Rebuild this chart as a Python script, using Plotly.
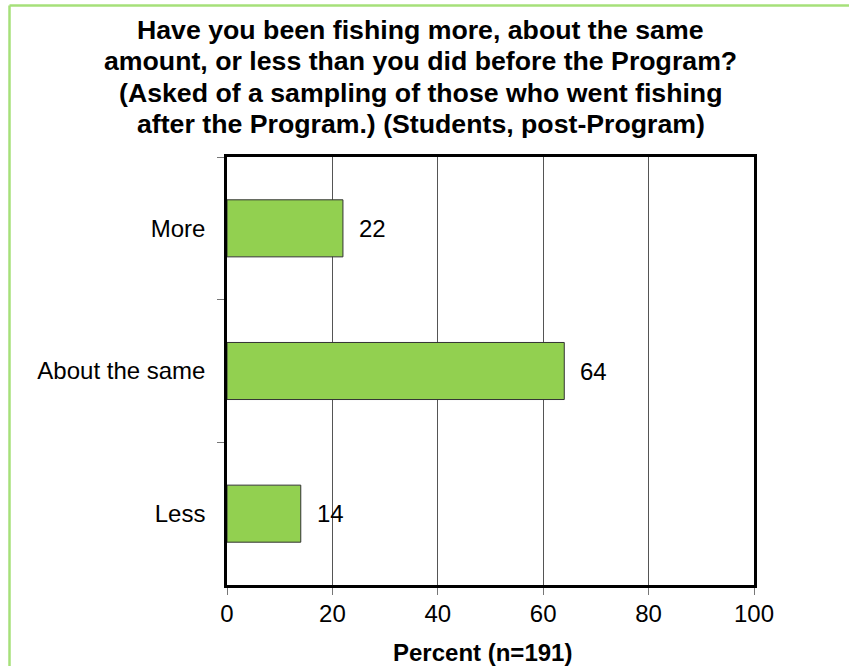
import plotly.graph_objects as go

categories = ['More', 'About the same', 'Less']
percent = [22, 64, 14]
x_ticks = [0, 20, 40, 60, 80, 100]

title_lines = ['Have you been fishing more, about the same',
               'amount, or less than you did before the Program?',
               '(Asked of a sampling of those who went fishing',
               'after the Program.) (Students, post-Program)']
title_centers = [30, 61, 93, 124]  # pixel rows of the title lines

W, H = 849, 666
L, R, T, B = 227, 95, 157, 81
pw, ph = W - L - R, H - T - B

fig = go.Figure(go.Bar(
    y=categories, x=percent, orientation='h', width=0.4,
    marker=dict(color='#92d050', line=dict(color='#333333', width=1)),
    hoverinfo='skip'))

# value labels to the right of each bar
for c, v in zip(categories, percent):
    fig.add_annotation(x=v, y=c, text=str(v), showarrow=False, xanchor='left',
                       xshift=14, font=dict(size=24, color='black'))

# title, one annotation per line so the line spacing matches
for line, yc in zip(title_lines, title_centers):
    fig.add_annotation(text='<b>' + line + '</b>', showarrow=False,
                       xref='paper', yref='paper', x=(W / 2 - 4 - L) / pw, y=1 + (T - yc) / ph,
                       xanchor='center', yanchor='middle', font=dict(size=26.7, color='black'))

# x axis title (sits a little left of the plot centre in the original)
fig.add_annotation(text='<b>Percent (n=191)</b>', showarrow=False,
                   xref='paper', yref='paper', x=(482 - L) / pw, y=-(652 - T - ph) / ph,
                   xanchor='center', yanchor='middle', font=dict(size=24, color='black'))

# light green slide border (left and top edges)
gx = (9.5 - L) / pw
gy = 1 + (T - 5.5) / ph
green = dict(color='#a6e07a', width=2.5)
fig.add_shape(type='line', xref='paper', yref='paper', x0=gx, x1=gx, y0=gy, y1=-(B + 5) / ph, line=green)
fig.add_shape(type='line', xref='paper', yref='paper', x0=gx, x1=1 + (R + 5) / pw, y0=gy, y1=gy, line=green)

fig.update_layout(
    width=W, height=H, margin=dict(l=L, r=R, t=T, b=B),
    paper_bgcolor='white', plot_bgcolor='white',
    font=dict(family='Liberation Sans, Arial, sans-serif', size=24, color='black'),
    showlegend=False,
    xaxis=dict(range=[0, 100], tickvals=x_ticks, showgrid=True, gridcolor='#555555', gridwidth=1,
               ticks='outside', ticklen=7, tickcolor='#777777', zeroline=False, automargin=False,
               showline=True, linecolor='black', linewidth=2.5, mirror=True, ticklabelstandoff=-2),
    yaxis=dict(categoryorder='array', categoryarray=categories, autorange='reversed',
               tickson='boundaries', ticks='outside', ticklen=7, tickcolor='#777777', automargin=False,
               showgrid=False, showline=True, linecolor='black', linewidth=2.5, mirror=True,
               ticklabelstandoff=14),
)

fig.write_html('out.html', config={'displayModeBar': False},
               post_script="document.body.style.margin='0';")
